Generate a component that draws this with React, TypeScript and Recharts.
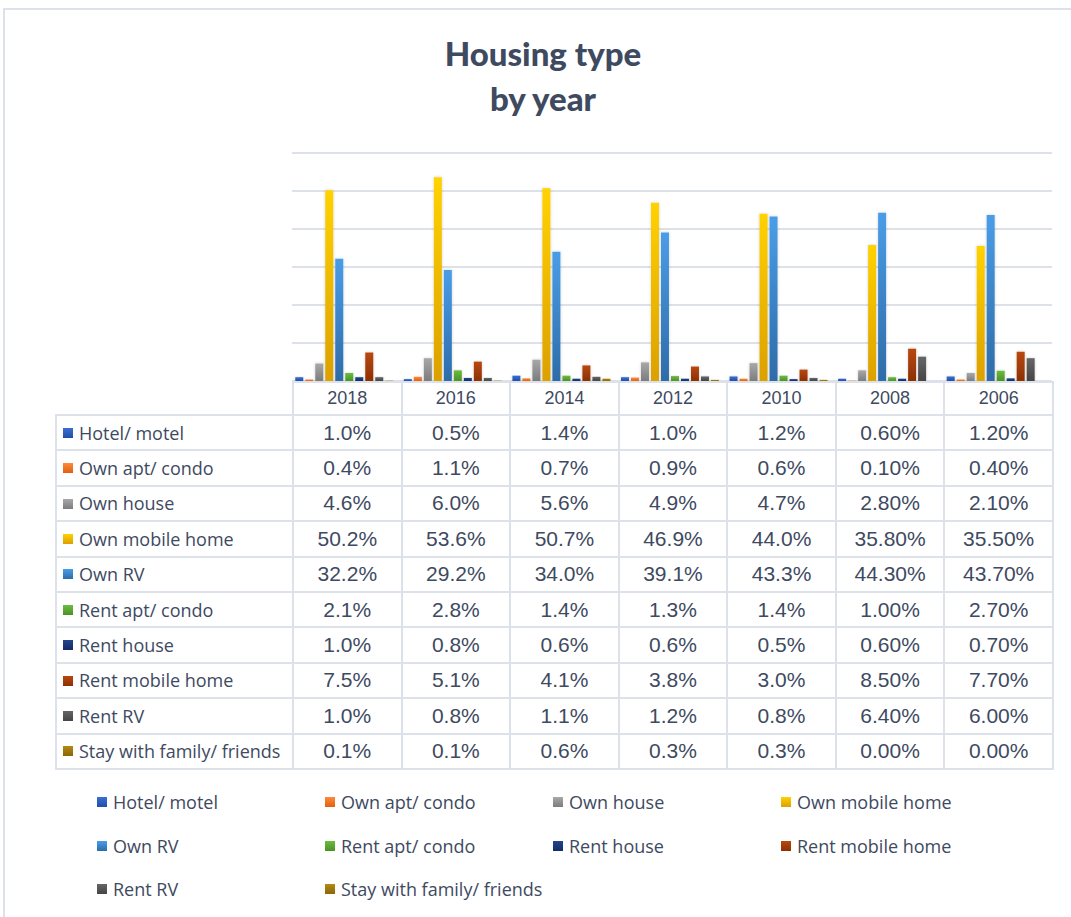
import React from 'react';
import { BarChart, Bar, XAxis, YAxis, CartesianGrid } from 'recharts';

const years = ['2018', '2016', '2014', '2012', '2010', '2008', '2006'];
// the last two survey years were published with two decimals
const decimals = [1, 1, 1, 1, 1, 2, 2];

const hotelMotel = [1.0, 0.5, 1.4, 1.0, 1.2, 0.6, 1.2];
const ownAptCondo = [0.4, 1.1, 0.7, 0.9, 0.6, 0.1, 0.4];
const ownHouse = [4.6, 6.0, 5.6, 4.9, 4.7, 2.8, 2.1];
const ownMobileHome = [50.2, 53.6, 50.7, 46.9, 44.0, 35.8, 35.5];
const ownRV = [32.2, 29.2, 34.0, 39.1, 43.3, 44.3, 43.7];
const rentAptCondo = [2.1, 2.8, 1.4, 1.3, 1.4, 1.0, 2.7];
const rentHouse = [1.0, 0.8, 0.6, 0.6, 0.5, 0.6, 0.7];
const rentMobileHome = [7.5, 5.1, 4.1, 3.8, 3.0, 8.5, 7.7];
const rentRV = [1.0, 0.8, 1.1, 1.2, 0.8, 6.4, 6.0];
const stayWithFamily = [0.1, 0.1, 0.6, 0.3, 0.3, 0.0, 0.0];

const yTicks = [0, 10, 20, 30, 40, 50, 60];

const series = [
  { key: 'hotel', name: 'Hotel/ motel', values: hotelMotel, top: '#3a6fd0', bottom: '#1f4fa8' },
  { key: 'ownApt', name: 'Own apt/ condo', values: ownAptCondo, top: '#ff8a3a', bottom: '#e0600e' },
  { key: 'ownHouse', name: 'Own house', values: ownHouse, top: '#a8a8a8', bottom: '#7c7c7c' },
  { key: 'ownMobile', name: 'Own mobile home', values: ownMobileHome, top: '#ffd200', bottom: '#dca000' },
  { key: 'ownRV', name: 'Own RV', values: ownRV, top: '#4a9de8', bottom: '#2e6ca8' },
  { key: 'rentApt', name: 'Rent apt/ condo', values: rentAptCondo, top: '#6cbc40', bottom: '#4a9226' },
  { key: 'rentHouse', name: 'Rent house', values: rentHouse, top: '#23458c', bottom: '#142c66' },
  { key: 'rentMobile', name: 'Rent mobile home', values: rentMobileHome, top: '#b8480e', bottom: '#8c3004' },
  { key: 'rentRV', name: 'Rent RV', values: rentRV, top: '#666666', bottom: '#454545' },
  { key: 'stay', name: 'Stay with family/ friends', values: stayWithFamily, top: '#b48a14', bottom: '#8a6606' },
];

const data = years.map((year, i) => {
  const row: Record<string, string | number> = { year };
  series.forEach((s) => {
    row[s.key] = s.values[i];
  });
  return row;
});

const textColor = '#3e4a5f';
const lineColor = '#dde1ea';
const labelFont = '"Open Sans", sans-serif';
const valueFont = '"Liberation Sans", Arial, sans-serif';

const PLOT_LEFT = 292;
const PLOT_RIGHT = 1052;
const TABLE_LEFT = 55;
const colWidth = (PLOT_RIGHT - PLOT_LEFT) / years.length;

function Swatch({ top, bottom }: { top: string; bottom: string }) {
  return (
    <span
      style={{
        display: 'inline-block',
        width: 10,
        height: 10,
        marginRight: 6,
        background: `linear-gradient(${top}, ${bottom})`,
        verticalAlign: 'middle',
        position: 'relative',
        top: -2,
      }}
    />
  );
}

function DataTable() {
  const cell: React.CSSProperties = {
    border: `2px solid ${lineColor}`,
    padding: 0,
    textAlign: 'center',
    color: textColor,
  };
  return (
    <table
      style={{
        position: 'absolute',
        left: TABLE_LEFT,
        top: 381,
        borderCollapse: 'collapse',
        tableLayout: 'fixed',
        width: PLOT_RIGHT - TABLE_LEFT,
      }}
    >
      <colgroup>
        <col style={{ width: PLOT_LEFT - TABLE_LEFT }} />
        {years.map((y) => (
          <col key={y} style={{ width: colWidth }} />
        ))}
      </colgroup>
      <tbody>
        <tr style={{ height: 33 }}>
          <td style={{ border: 'none' }} />
          {years.map((y) => (
            <td key={y} style={{ ...cell, fontFamily: valueFont, fontSize: 18 }}>
              {y}
            </td>
          ))}
        </tr>
        {series.map((s) => (
          <tr key={s.key} style={{ height: 35.4 }}>
            <td
              style={{
                ...cell,
                textAlign: 'left',
                paddingLeft: 6,
                fontFamily: labelFont,
                fontSize: 18,
                whiteSpace: 'nowrap',
              }}
            >
              <Swatch top={s.top} bottom={s.bottom} />
              {s.name}
            </td>
            {s.values.map((v, i) => (
              <td key={i} style={{ ...cell, fontFamily: valueFont, fontSize: 21 }}>
                {v.toFixed(decimals[i])}%
              </td>
            ))}
          </tr>
        ))}
      </tbody>
    </table>
  );
}

const legendCols = [97, 325, 553, 781];
const legendRows = [802, 846, 889];

function ChartLegend() {
  return (
    <>
      {series.map((s, i) => (
        <div
          key={s.key}
          style={{
            position: 'absolute',
            left: legendCols[i % 4],
            top: legendRows[Math.floor(i / 4)] - 12,
            height: 24,
            lineHeight: '24px',
            fontFamily: labelFont,
            fontSize: 18,
            color: textColor,
            whiteSpace: 'nowrap',
          }}
        >
          <Swatch top={s.top} bottom={s.bottom} />
          {s.name}
        </div>
      ))}
    </>
  );
}

export default function App() {
  return (
    <div style={{ position: 'absolute', left: 0, top: 0, width: 1071, height: 917, background: '#fff', overflow: 'hidden' }}>
      <div
        style={{
          position: 'absolute',
          left: 3,
          top: 8,
          width: 1080,
          height: 920,
          border: `2px solid ${lineColor}`,
        }}
      />
      <div
        style={{
          position: 'absolute',
          left: 0,
          top: 31,
          width: 1086,
          textAlign: 'center',
          fontFamily: 'Lato, sans-serif',
          fontWeight: 900,
          fontSize: 33,
          lineHeight: '45px',
          color: textColor,
        }}
      >
        Housing type
        <br />
        by year
      </div>
      <BarChart
        width={1071}
        height={400}
        data={data}
        margin={{ top: 153, right: 1071 - PLOT_RIGHT, bottom: 19, left: PLOT_LEFT }}
        barCategoryGap="3%"
        barGap={2}
        style={{ position: 'absolute', left: 0, top: 0 }}
      >
        <defs>
          {series.map((s) => (
            <linearGradient key={s.key} id={`grad-${s.key}`} x1="0" y1="0" x2="0" y2="1">
              <stop offset="0%" stopColor={s.top} />
              <stop offset="100%" stopColor={s.bottom} />
            </linearGradient>
          ))}
          <filter id="barShadow" x="-50%" y="-10%" width="200%" height="120%">
            <feDropShadow dx="0" dy="0" stdDeviation="1.5" floodColor="#000" floodOpacity="0.18" />
          </filter>
        </defs>
        <CartesianGrid horizontal vertical={false} stroke={lineColor} strokeWidth={2} />
        <XAxis dataKey="year" hide />
        <YAxis hide domain={[0, 60]} ticks={yTicks} />
        {series.map((s) => (
          <Bar
            key={s.key}
            dataKey={s.key}
            name={s.name}
            fill={`url(#grad-${s.key})`}
            filter="url(#barShadow)"
            isAnimationActive={false}
          />
        ))}
      </BarChart>
      <DataTable />
      <ChartLegend />
    </div>
  );
}
